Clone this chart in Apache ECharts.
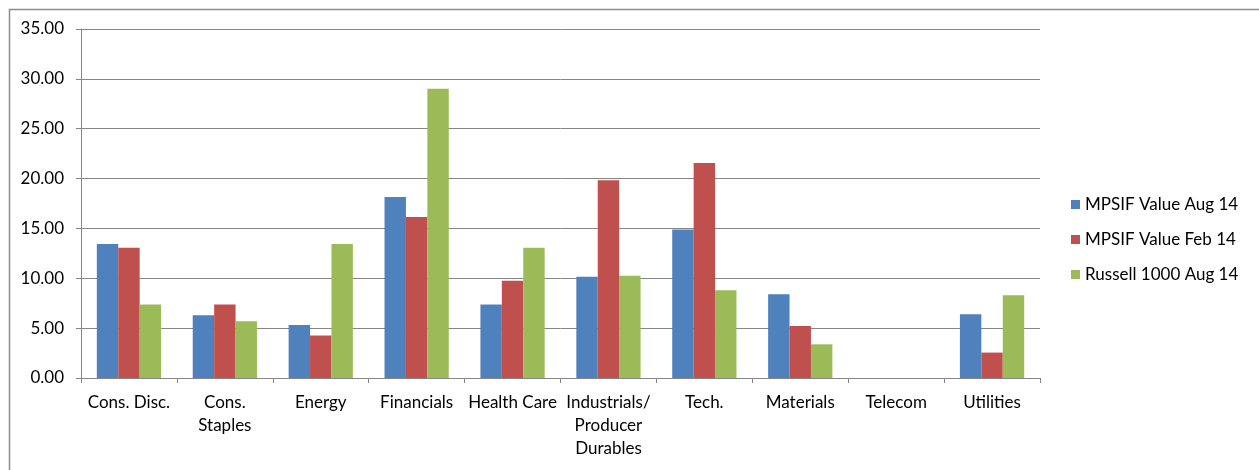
<!DOCTYPE html>
<html>
<head>
<meta charset="utf-8">
<script src="https://cdn.jsdelivr.net/npm/echarts@6/dist/echarts.min.js"></script>
<style>html,body{margin:0;padding:0;background:#fff}#c{width:1259px;height:470px}</style>
</head>
<body>
<div id="c"></div>
<script>
const categories = ['Cons. Disc.', 'Cons.\nStaples', 'Energy', 'Financials', 'Health Care', 'Industrials/\nProducer\nDurables', 'Tech.', 'Materials', 'Telecom', 'Utilities'];
const seriesNames = ['MPSIF Value Aug 14', 'MPSIF Value Feb 14', 'Russell 1000 Aug 14'];
const mpsifAug14 = [13.43, 6.30, 5.32, 18.15, 7.37, 10.15, 14.90, 8.41, 0, 6.40];
const mpsifFeb14 = [13.06, 7.37, 4.25, 16.14, 9.75, 19.83, 21.57, 5.22, 0, 2.55];
const russell1000Aug14 = [7.37, 5.69, 13.43, 29.00, 13.06, 10.25, 8.81, 3.38, 0, 8.31];
const colors = ['#4F81BD', '#C0504D', '#9BBB59'];

const chart = echarts.init(document.getElementById('c'));
const font = 'Lato, "Open Sans", sans-serif';
chart.setOption({
  animation: false,
  textStyle: { fontFamily: font },
  graphic: [{
    type: 'rect', left: 7, top: 7, shape: { width: 1270, height: 480 },
    style: { fill: 'none', stroke: '#8c8c8c', lineWidth: 1.5 }, silent: true
  }],
  grid: { left: 81, right: 219, top: 29, bottom: 92 },
  legend: {
    orient: 'vertical', left: 1071, top: 196, padding: 0,
    itemWidth: 9, itemHeight: 9, itemGap: 18,
    icon: 'rect',
    textStyle: { fontSize: 17, color: '#000', fontFamily: font },
    data: seriesNames
  },
  xAxis: {
    type: 'category', data: categories,
    axisLine: { lineStyle: { color: '#868686', width: 1 } },
    axisTick: { show: true, alignWithLabel: false, length: 5, lineStyle: { color: '#868686' } },
    axisLabel: { interval: 0, color: '#000', fontSize: 17, fontFamily: font, margin: 13, lineHeight: 23 }
  },
  yAxis: {
    type: 'value', min: 0, max: 35, interval: 5,
    axisLine: { show: true, lineStyle: { color: '#868686' } },
    axisTick: { show: true, length: 5, lineStyle: { color: '#868686' } },
    splitLine: { lineStyle: { color: '#868686', width: 1 } },
    axisLabel: { color: '#000', fontSize: 17, fontFamily: font, margin: 17, formatter: v => v.toFixed(2) }
  },
  series: [mpsifAug14, mpsifFeb14, russell1000Aug14].map((d, i) => ({
    name: seriesNames[i], type: 'bar', data: d,
    barGap: '0%', barCategoryGap: '33%',
    itemStyle: { color: colors[i] }
  }))
});
</script>
</body>
</html>
